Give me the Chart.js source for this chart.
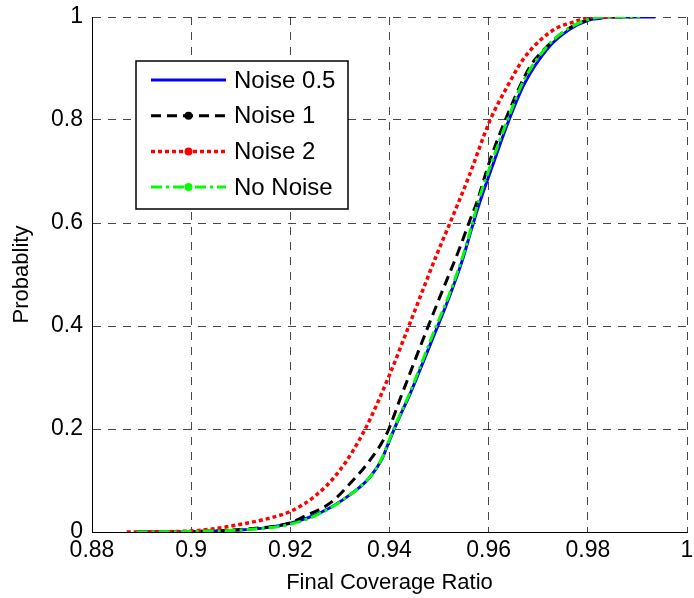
<!DOCTYPE html>
<html>
<head>
<meta charset="utf-8">
<script src="https://cdn.jsdelivr.net/npm/chart.js@4/dist/chart.umd.min.js"></script>
<style>
  html, body { margin: 0; padding: 0; background: #fff; }
  #wrap { width: 694px; height: 598px; }
</style>
</head>
<body>
<div id="wrap"><canvas id="cdf" width="694" height="598"></canvas></div>
<script>
// Final coverage ratio CDFs
const noise05X = [0.889, 0.9, 0.91, 0.915, 0.92, 0.926, 0.932, 0.936, 0.9385, 0.94, 0.942, 0.944, 0.9451, 0.9491, 0.952, 0.9546, 0.9566, 0.9582, 0.9607, 0.9641, 0.9673, 0.9722, 0.9762, 0.9802, 0.9828, 0.9836, 0.9936];
const noise05Y = [0, 0.001, 0.004, 0.008, 0.017, 0.037, 0.072, 0.106, 0.142, 0.178, 0.223, 0.265, 0.29, 0.385, 0.455, 0.525, 0.59, 0.64, 0.709, 0.8, 0.872, 0.942, 0.975, 0.994, 0.998, 1, 1];

const noise1X = [0.889, 0.9, 0.91, 0.92, 0.9225, 0.928, 0.9326, 0.9361, 0.9395, 0.9422, 0.9442, 0.9466, 0.9501, 0.9541, 0.9562, 0.9576, 0.9602, 0.9648, 0.9683, 0.9717, 0.9757, 0.9798, 0.983, 0.989];
const noise1Y = [0, 0.001, 0.005, 0.018, 0.029, 0.056, 0.1, 0.14, 0.192, 0.26, 0.31, 0.37, 0.455, 0.55, 0.605, 0.64, 0.72, 0.833, 0.903, 0.942, 0.975, 0.994, 1, 1];

const noise2X = [0.887, 0.9, 0.9058, 0.91, 0.915, 0.92, 0.925, 0.93, 0.9351, 0.94, 0.9441, 0.9498, 0.9522, 0.956, 0.9603, 0.9637, 0.9669, 0.9704, 0.9738, 0.977, 0.9798, 0.981, 0.985];
const noise2Y = [0, 0.002, 0.008, 0.015, 0.025, 0.04, 0.07, 0.12, 0.2, 0.305, 0.405, 0.545, 0.6, 0.69, 0.8, 0.864, 0.917, 0.955, 0.979, 0.99, 0.998, 1, 1];

const noNoiseX = [0.889, 0.9, 0.91, 0.92, 0.926, 0.932, 0.936, 0.9385, 0.94, 0.942, 0.944, 0.949, 0.952, 0.9546, 0.9566, 0.958, 0.9605, 0.964, 0.967, 0.972, 0.976, 0.98, 0.983, 0.9905];
const noNoiseY = [0, 0.001, 0.004, 0.015, 0.036, 0.072, 0.106, 0.144, 0.18, 0.225, 0.268, 0.39, 0.46, 0.53, 0.595, 0.645, 0.715, 0.805, 0.875, 0.945, 0.977, 0.995, 1, 1];

const seriesNames = ['Noise 0.5', 'Noise 1', 'Noise 2', 'No Noise'];

const FONT = '"Liberation Sans", Arial, Helvetica, sans-serif';

function toPoints(xs, ys) {
    return xs.map((x, i) => ({ x: x, y: ys[i] }));
}

// MATLAB-style legend box with line samples and dot markers
const boxLegend = {
    id: 'boxLegend',
    afterDraw(chart, args, opts) {
        const ctx = chart.ctx;
        ctx.save();
        ctx.fillStyle = '#fff';
        ctx.fillRect(opts.left, opts.top, opts.width, opts.height);
        ctx.strokeStyle = '#000';
        ctx.lineWidth = 1.5;
        ctx.strokeRect(opts.left, opts.top, opts.width, opts.height);

        chart.data.datasets.forEach((ds, i) => {
            const y = opts.firstRow + i * opts.rowStep;
            ctx.beginPath();
            ctx.setLineDash(ds.borderDash || []);
            ctx.lineWidth = ds.borderWidth;
            ctx.strokeStyle = ds.borderColor;
            ctx.moveTo(opts.lineStart, y);
            ctx.lineTo(opts.lineEnd, y);
            ctx.stroke();
            ctx.setLineDash([]);
            if (ds.legendDot) {
                ctx.beginPath();
                ctx.fillStyle = ds.borderColor;
                ctx.arc((opts.lineStart + opts.lineEnd) / 2, y, 4, 0, Math.PI * 2);
                ctx.fill();
            }
            ctx.fillStyle = '#000';
            ctx.font = opts.fontSize + 'px ' + FONT;
            ctx.textBaseline = 'middle';
            ctx.textAlign = 'left';
            ctx.fillText(ds.label, opts.textX, y + 1);
        });
        ctx.restore();
    }
};

const ctx = document.getElementById('cdf').getContext('2d');

new Chart(ctx, {
    type: 'line',
    data: {
        datasets: [
            {
                label: seriesNames[0],
                data: toPoints(noise05X, noise05Y),
                borderColor: '#0000ff',
                borderWidth: 3,
                order: 4,
                legendDot: false
            },
            {
                label: seriesNames[1],
                data: toPoints(noise1X, noise1Y),
                borderColor: '#000000',
                borderWidth: 3,
                borderDash: [10, 6],
                order: 3,
                legendDot: true
            },
            {
                label: seriesNames[2],
                data: toPoints(noise2X, noise2Y),
                borderColor: '#ff0000',
                borderWidth: 3.5,
                borderDash: [4, 3],
                order: 2,
                legendDot: true
            },
            {
                label: seriesNames[3],
                data: toPoints(noNoiseX, noNoiseY),
                borderColor: '#00ff00',
                borderWidth: 3,
                borderDash: [11, 4, 3, 4],
                order: 1,
                legendDot: true
            }
        ]
    },
    options: {
        responsive: false,
        animation: false,
        layout: { padding: { top: 17, right: 7, left: 0, bottom: 0 } },
        elements: {
            point: { radius: 0, hoverRadius: 0 },
            line: { cubicInterpolationMode: 'monotone', fill: false, borderCapStyle: 'butt' }
        },
        scales: {
            x: {
                type: 'linear',
                min: 0.88,
                max: 1,
                afterFit: scale => {
                    scale.height = 66;
                    scale.paddingLeft = 0;
                    scale.paddingRight = 0;
                },
                ticks: {
                    stepSize: 0.02,
                    color: '#000',
                    padding: 5,
                    font: { family: FONT, size: 23 },
                    callback: v => String(parseFloat(v.toFixed(2)))
                },
                grid: { color: 'rgba(0,0,0,0.72)', lineWidth: 1, drawTicks: false },
                border: { display: true, color: '#000', width: 1, dash: [8, 7] },
                title: {
                    display: true,
                    text: 'Final Coverage Ratio',
                    color: '#000',
                    font: { family: FONT, size: 22 },
                    padding: { top: 0, bottom: 2 }
                }
            },
            y: {
                type: 'linear',
                min: 0,
                max: 1,
                afterFit: scale => {
                    scale.width = 92;
                    scale.paddingTop = 0;
                    scale.paddingBottom = 0;
                },
                ticks: {
                    stepSize: 0.2,
                    color: '#000',
                    padding: 9,
                    font: { family: FONT, size: 23 },
                    callback: v => String(parseFloat(v.toFixed(1)))
                },
                grid: { color: 'rgba(0,0,0,0.72)', lineWidth: 1, drawTicks: false },
                border: { display: true, color: '#000', width: 1, dash: [8, 7] },
                title: {
                    display: true,
                    text: 'Probablity',
                    color: '#000',
                    font: { family: FONT, size: 22 },
                    padding: { top: 9, bottom: 0 }
                }
            }
        },
        plugins: {
            legend: { display: false },
            tooltip: { enabled: false },
            boxLegend: {
                left: 136, top: 61, width: 212, height: 148,
                firstRow: 80, rowStep: 35.7,
                lineStart: 151, lineEnd: 226, textX: 234,
                fontSize: 24
            }
        }
    },
    plugins: [boxLegend]
});
</script>
</body>
</html>
